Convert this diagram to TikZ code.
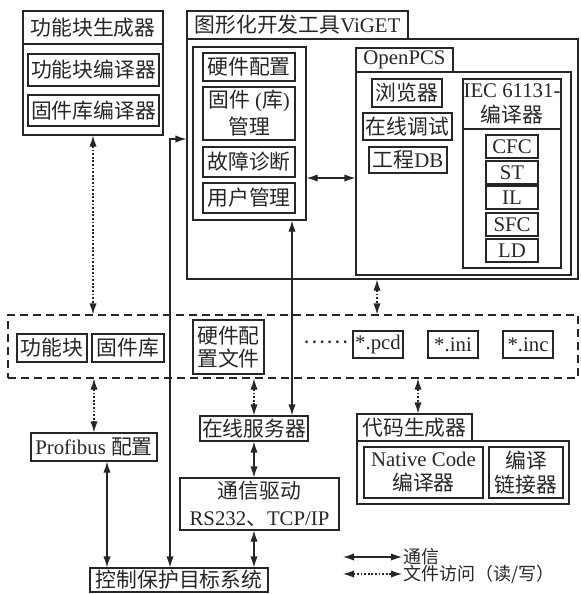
\documentclass[tikz,border=0pt]{standalone}
\usepackage{fontspec}
\setmainfont{Liberation Serif}
\newfontfamily\cjk{Noto Sans CJK SC}
\usetikzlibrary{arrows.meta}
\newcommand\zh[1]{{\cjk #1}}
\definecolor{ink}{HTML}{262626}
\tikzset{
  box/.style={draw,inner sep=0pt,align=center},
  comm/.style={<->},
  file/.style={<->,dash pattern=on 0.9pt off 0.9pt},
  dbox/.style={draw,inner sep=0pt,dash pattern=on 4pt off 2.5pt}
}
% \bx[options]{name}{x1}{y1}{x2}{y2}{text}  (pixel coordinates)
\newcommand\bx[7][]{%
  \node[box,minimum width={(#5-#3)*0.5pt},minimum height={(#6-#4)*0.5pt},#1]
    (#2) at ({(#3+#5)/2},{(#4+#6)/2}) {#7};}
\begin{document}
\begin{tikzpicture}[x=0.5pt,y=-0.5pt,line width=0.55pt,color=ink,
  font=\fontsize{10.4pt}{12.5pt}\selectfont,
  >={Latex[length=5.5pt,width=3.6pt]}]
\useasboundingbox (0,0) rectangle (580,594);

% Function block generator
\bx{gentitle}{23}{11}{163}{44}{\zh{功能块生成器}}
\bx{genbody}{23}{44}{163}{135}{}
\bx{fbc}{28}{54}{159}{86}{\zh{功能块编译器}}
\bx{flc}{28}{95}{159}{126}{\zh{固件库编译器}}

% ViGET
\bx{vigettitle}{187}{11}{408}{39}{\zh{图形化开发工具}ViGET}
\bx{vigetbody}{187}{39}{578}{279}{}
\bx{leftpanel}{193}{47}{306}{220}{}
\bx{hw}{203}{53}{295}{81}{\zh{硬件配置}}
\bx[font=\fontsize{10.4pt}{13.5pt}\selectfont]{fw}{203}{87}{295}{140}{\zh{固件} (\zh{库})\\\zh{管理}}
\bx{diag}{203}{147}{295}{177}{\zh{故障诊断}}
\bx{user}{203}{183}{295}{213}{\zh{用户管理}}

\bx{opentitle}{356}{48}{453}{72}{OpenPCS}
\bx{openbody}{356}{72}{571}{275}{}
\bx{browse}{372}{79}{442}{107}{\zh{浏览器}}
\bx{debug}{363}{113}{452}{140}{\zh{在线调试}}
\bx{proj}{369}{147}{447}{173}{\zh{工程}DB}
\bx{iectitle}{463}{79}{561}{129}{IEC 61131-\\\zh{编译器}}
\bx{iecbody}{463}{129}{561}{268}{}
\bx{cfc}{486}{135}{538}{158}{CFC}
\bx{st}{486}{161}{538}{184}{ST}
\bx{il}{486}{186}{538}{209}{IL}
\bx{sfc}{486}{213}{538}{236}{SFC}
\bx{ld}{486}{239}{538}{262}{LD}

% Files (dashed)
\bx[dbox]{dashed}{8}{315}{578}{378}{}
\bx{fb}{17}{334}{87}{362}{\zh{功能块}}
\bx{fl}{92}{334}{164}{362}{\zh{固件库}}
\bx[font=\fontsize{10.4pt}{11.2pt}\selectfont]{hwf}{193}{320}{264}{374}{\zh{硬件配}\\\zh{置文件}}
\node (dots) at (326,342) {\zh{……}};
\bx{pcd}{353}{331}{403}{358}{*.pcd}
\bx{ini}{428}{331}{478}{358}{*.ini}
\bx{inc}{503}{331}{553}{358}{*.inc}

% Lower part
\bx{server}{200}{416}{308}{441}{\zh{在线服务器}}
\bx{profi}{31}{433}{157}{461}{Profibus \zh{配置}}
\bx[font=\fontsize{10.4pt}{13.5pt}\selectfont]{drv}{180}{478}{339}{530}{\zh{通信驱动}\\RS232\zh{、}TCP/IP}
\bx{target}{90}{568}{268}{592}{\zh{控制保护目标系统}}
\bx{cgtitle}{357}{414}{472}{441}{\zh{代码生成器}}
\bx{cgbody}{357}{441}{569}{504}{}
\bx[font=\fontsize{10.4pt}{12pt}\selectfont]{native}{364}{447}{483}{498}{Native Code\\\zh{编译器}}
\bx[font=\fontsize{10.4pt}{12pt}\selectfont]{link}{489}{447}{563}{498}{\zh{编译}\\\zh{链接器}}

% helper coordinates
\coordinate (bend) at (170,139);
\coordinate (xU) at (292,0);
\coordinate (yM) at (0,178);
\coordinate (xV) at (377,0);
\coordinate (xC) at (418,0);
\coordinate (xP) at (107,0);

% connectors
\draw[file] (genbody.south) -- (genbody.south |- dashed.north);
\draw[file] (dashed.south -| profi.north) -- (profi.north);
\draw[comm] (target.north -| bend) -- (bend) -- (bend -| vigetbody.west);
\draw[comm] (leftpanel.south -| xU) -- (server.north -| xU);
\draw[comm] (leftpanel.east |- yM) -- (openbody.west |- yM);
\draw[file] (dashed.south -| server.north) -- (server.north);
\draw[file] (vigetbody.south -| xV) -- (dashed.north -| xV);
\draw[file] (dashed.south -| xC) -- (cgtitle.north -| xC);
\draw[comm] (server.south) -- (server.south |- drv.north);
\draw[comm] (drv.south -| server.south) -- (target.north -| server.south);
\draw[comm] (profi.south -| xP) -- (target.north -| xP);

% legend
\coordinate (la1) at (343,557);
\coordinate (la2) at (402,557);
\coordinate (lb1) at (343,574);
\coordinate (lb2) at (402,574);
\draw[comm] (la1) -- (la2);
\draw[file] (lb1) -- (lb2);
\node[anchor=west,inner sep=0.5pt,font=\fontsize{9pt}{10pt}\selectfont] (lt1) at (la2) {\zh{通信}};
\node[anchor=west,inner sep=0.5pt,font=\fontsize{9pt}{10pt}\selectfont] (lt2) at (lb2) {\zh{文件访问（读/写）}};
\end{tikzpicture}
\end{document}
